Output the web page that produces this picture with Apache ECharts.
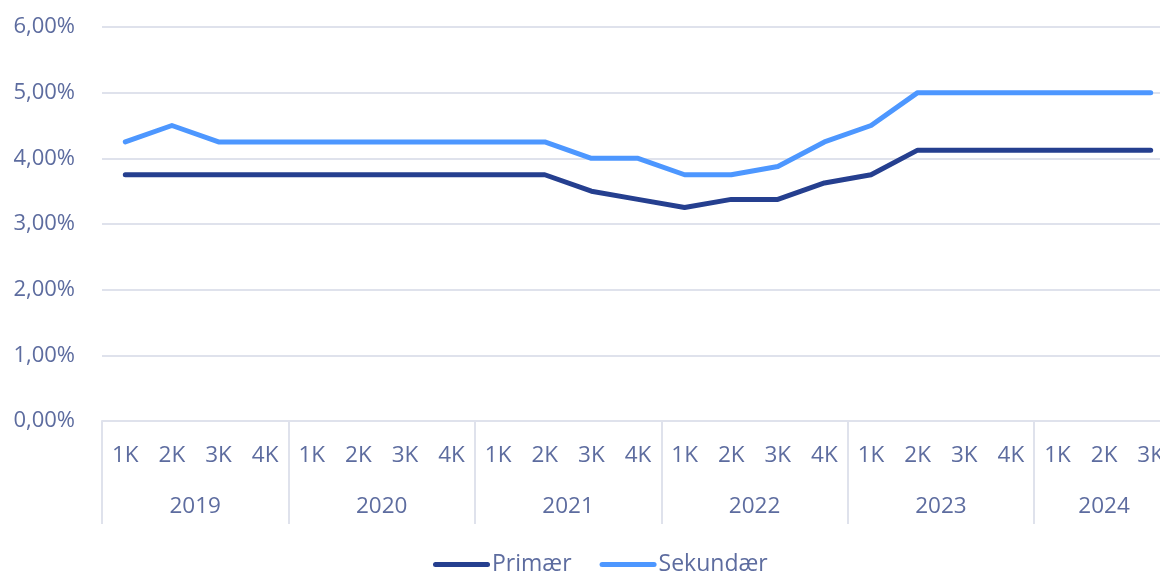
<!DOCTYPE html>
<html>
<head>
<meta charset="utf-8">
<script src="https://cdn.jsdelivr.net/npm/echarts@6/dist/echarts.min.js"></script>
<style>
  html, body { margin: 0; padding: 0; background: #ffffff; overflow: hidden; }
  /* The plot runs slightly past the right edge of the page */
  #chart { width: 1177px; height: 572px; }
</style>
</head>
<body>
<div id="chart"></div>
<script>
// Quarter labels per year and the years they belong to
const years = ['2019', '2020', '2021', '2022', '2023', '2024'];
const quartersPerYear = [4, 4, 4, 4, 4, 3];
const quarterNames = ['1K', '2K', '3K', '4K'];

// Interest rates in percent
const primaer = [
  3.75, 3.75, 3.75, 3.75,
  3.75, 3.75, 3.75, 3.75,
  3.75, 3.75, 3.5, 3.375,
  3.25, 3.375, 3.375, 3.625,
  3.75, 4.125, 4.125, 4.125,
  4.125, 4.125, 4.125
];
const sekundaer = [
  4.25, 4.5, 4.25, 4.25,
  4.25, 4.25, 4.25, 4.25,
  4.25, 4.25, 4.0, 4.0,
  3.75, 3.75, 3.875, 4.25,
  4.5, 5.0, 5.0, 5.0,
  5.0, 5.0, 5.0
];

const yTicks = { min: 0, max: 6, step: 1 };

// Build the flat category list and the centre of each year group
const categories = [];
const yearCentres = [];
let start = 0;
quartersPerYear.forEach((n, yi) => {
  for (let q = 0; q < n; q++) categories.push(quarterNames[q]);
  yearCentres.push({ pos: start + n / 2, label: years[yi] });
  start += n;
});

const textColor = '#5d6c9f';
const gridColor = '#dfe2ec';
const font = '"Open Sans", "Noto Sans", sans-serif';

const chart = echarts.init(document.getElementById('chart'));
chart.setOption({
  animation: false,
  textStyle: { fontFamily: font },
  grid: { left: 102, right: 0, top: 27, bottom: 151, containLabel: false },
  legend: {
    top: 548,
    left: 428,
    itemWidth: 57,
    itemHeight: 5,
    itemGap: 28,
    icon: 'path://M2.5,0 H54.5 A2.5,2.5 0 0 1 54.5,5 H2.5 A2.5,2.5 0 0 1 2.5,0 Z',
    textStyle: { color: textColor, fontSize: 23, fontFamily: font, padding: [0, 0, 0, -3] },
    data: ['Primær', 'Sekundær']
  },
  xAxis: [
    {
      type: 'category',
      data: categories,
      boundaryGap: true,
      axisLine: { show: true, lineStyle: { color: gridColor, width: 2 } },
      axisTick: {
        show: true,
        interval: (i) => i % 4 === 0,
        length: 103,
        lineStyle: { color: gridColor, width: 2 }
      },
      axisLabel: { interval: 0, margin: 23, color: textColor, fontSize: 22.5, fontFamily: font },
      splitLine: { show: false }
    },
    {
      type: 'value',
      position: 'bottom',
      min: 0,
      max: categories.length,
      interval: 0.5,
      axisLine: { show: false },
      axisTick: { show: false },
      splitLine: { show: false },
      axisLabel: {
        margin: 74,
        color: textColor,
        fontSize: 22.5,
        fontFamily: font,
        showMinLabel: true,
        showMaxLabel: true,
        formatter: (v) => {
          const hit = yearCentres.find(c => Math.abs(c.pos - v) < 1e-6);
          return hit ? hit.label : '';
        }
      }
    }
  ],
  yAxis: {
    type: 'value',
    min: yTicks.min,
    max: yTicks.max,
    interval: yTicks.step,
    axisLine: { show: false },
    axisTick: { show: false },
    splitLine: { lineStyle: { color: gridColor, width: 2 } },
    axisLabel: {
      margin: 27,
      color: textColor,
      fontSize: 22,
      fontFamily: font,
      formatter: (v) => v.toFixed(2).replace('.', ',') + '%'
    }
  },
  series: [
    {
      name: 'Primær',
      type: 'line',
      xAxisIndex: 0,
      data: primaer,
      showSymbol: false,
      symbol: 'none',
      color: '#253f8f',
      lineStyle: { width: 5, color: '#253f8f', cap: 'round', join: 'round' }
    },
    {
      name: 'Sekundær',
      type: 'line',
      xAxisIndex: 0,
      data: sekundaer,
      showSymbol: false,
      symbol: 'none',
      color: '#4d97ff',
      lineStyle: { width: 5, color: '#4d97ff', cap: 'round', join: 'round' }
    }
  ]
});
</script>
</body>
</html>
